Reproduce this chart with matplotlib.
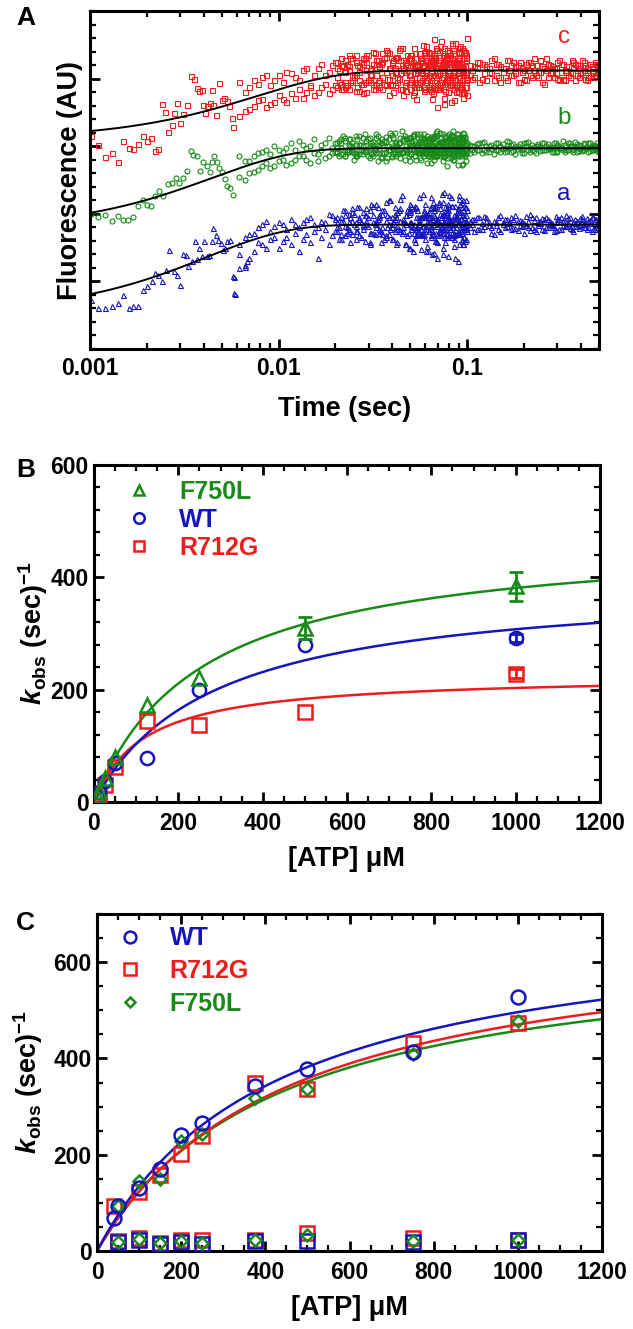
import numpy as np
import matplotlib
matplotlib.use("Agg")
import matplotlib.pyplot as plt
from matplotlib.ticker import MultipleLocator, FixedLocator, NullFormatter, LogLocator

plt.rcParams['font.family'] = ['Liberation Sans', 'DejaVu Sans']
plt.rcParams['font.weight'] = 'bold'
plt.rcParams['mathtext.fontset'] = 'custom'
plt.rcParams['mathtext.rm'] = 'Liberation Sans:bold'
plt.rcParams['mathtext.it'] = 'Liberation Sans:bold:italic'
plt.rcParams['mathtext.bf'] = 'Liberation Sans:bold'

RED = '#EE1C1C'
GREEN = '#178A17'
BLUE = '#1515C0'

# ---------------- Panel A data ----------------
# early sparse points (t in s, fluorescence AU)
tA_c_early = [0.00101,0.001106,0.0012,0.001303,0.001413,0.001503,0.001615,0.001697,0.001803,0.001901,
              0.002013,0.002104,0.002211,0.002301,0.002398,0.002496,0.0026,0.002708,0.0028,0.002904,
              0.0030,0.003125,0.003253,0.003416,0.003557,0.003674,0.003797,0.003908,0.003986,0.004068,
              0.004185,0.004325,0.004415,0.004506,0.004652,0.00483,0.00499,0.005129,0.0053,0.005473,
              0.005631,0.005747]
yA_c_early = [3.155,3.022,2.84,2.899,2.761,3.081,2.973,2.958,3.032,3.146,
              3.072,3.121,2.924,2.958,3.629,3.501,3.205,3.308,3.491,3.639,
              3.343,3.476,3.614,4.033,3.994,3.861,3.821,3.836,3.614,3.491,
              3.589,3.639,3.836,3.614,3.456,3.935,3.688,3.713,3.663,3.589,
              3.417,3.279]
tA_b_early = [0.00101,0.001106,0.0012,0.001303,0.001413,0.001503,0.001596,0.001697,0.001803,0.001901,
              0.002013,0.002104,0.002211,0.00232,0.002446,0.0026,0.002708,0.002858,0.002974,0.003098,
              0.003253,0.003416,0.003529,0.003674,0.003828,0.003986,0.004151,0.004325,0.004415,0.004541,
              0.004691,0.004846,0.00499,0.005193,0.005342,0.005518,0.005747]
yA_b_early = [1.997,1.947,1.987,1.888,1.962,1.913,1.913,1.947,2.11,2.209,
              2.125,2.11,2.258,2.332,2.258,2.441,2.455,2.529,2.455,2.529,
              2.628,2.934,2.874,2.86,2.628,2.766,2.702,2.618,2.766,2.85,
              2.766,2.677,2.618,2.519,2.406,2.381,2.283]
tA_a_early = [0.00101,0.001106,0.0012,0.001303,0.001413,0.001503,0.001615,0.001697,0.001803,0.001901,
              0.002013,0.002122,0.002211,0.002301,0.002398,0.002527,0.002632,0.002787,0.002904,0.0030,
              0.003125,0.003227,0.003319,0.003458,0.003601,0.003674,0.003797,0.003908,0.004018,0.004151,
              0.004289,0.004415,0.004506,0.004652,0.004786,0.004926,0.005047,0.005193,0.005342,0.005518,
              0.005702,0.005796,0.0058,0.0059,0.0062,0.0066,0.0068]
yA_a_early = [0.729,0.606,0.606,0.631,0.68,0.794,0.606,0.631,0.631,0.877,
              0.927,1.001,1.124,1.099,1.001,1.173,1.469,1.149,1.099,0.951,
              1.405,1.395,1.222,1.297,1.602,1.336,1.494,1.37,1.592,1.37,
              1.395,1.592,1.79,1.691,1.617,1.568,1.469,1.494,1.592,1.617,
              1.075,0.828,1.06,0.81,1.20,1.22,1.30]

# dense middle region (shared instrument time base)
tA_mid = [0.0062,0.0066,0.0070,0.0074,0.0078,0.0082,0.0086,0.0090,0.0095,0.0100,
          0.0105,0.0110,0.0116,0.0122,0.0128,0.0134,0.0140,0.0147,0.0154,0.0161,
          0.0168,0.0176,0.0184,0.0192,0.0200,0.0210,0.0220,0.0230,0.0240,0.0250,
          0.0262,0.0274,0.0286,0.0298,0.0310,0.0323,0.0336,0.0349,0.0362,0.0376,
          0.0390,0.0405,0.0420,0.0435,0.0450,0.0466,0.0482,0.0498,0.0514,0.0530,
          0.0547,0.0564,0.0581,0.0598,0.0615,0.0633,0.0651,0.0669,0.0687,0.0705,
          0.0724,0.0743,0.0762,0.0781,0.0800,0.0820,0.0840,0.0860,0.0880,0.0900,
          0.0920,0.0940,0.0960,0.0980,0.0995]
yA_c_mid1 = [3.95,3.52,3.88,3.60,3.92,3.70,4.05,3.62,3.98,3.75,
             3.70,4.10,3.78,4.02,3.85,3.72,4.15,3.88,4.05,3.80,
             4.22,3.92,4.10,3.85,4.25,3.95,4.18,3.90,4.30,4.02,
             3.88,4.25,3.95,4.35,4.05,3.85,4.28,4.10,3.92,4.40,
             4.15,3.80,4.32,4.00,4.45,3.90,4.20,4.05,3.75,4.38,
             4.12,3.95,4.50,3.85,4.25,4.05,3.70,4.35,4.15,3.92,
             4.55,4.02,3.82,4.30,4.10,3.65,4.42,4.00,4.20,3.88,
             4.48,4.08,3.78,4.28,4.60]
yA_c_mid2 = [3.45,3.80,3.55,3.98,3.68,4.02,3.58,3.90,3.65,4.05,
             3.95,3.65,4.08,3.72,3.98,4.12,3.80,3.90,3.75,4.15,
             3.88,4.05,3.78,4.20,3.90,4.12,3.85,4.22,3.95,4.05,
             4.20,3.92,4.30,3.98,4.15,4.38,3.95,4.22,4.30,4.00,
             3.90,4.28,4.08,4.42,3.85,4.22,4.35,3.95,4.25,4.08,
             3.88,4.30,4.18,4.40,3.98,4.20,4.28,3.90,4.45,4.25,
             4.00,4.35,4.22,3.95,4.40,4.18,4.05,4.52,3.92,4.30,
             4.15,3.85,4.40,4.00,3.75]
yA_b_mid1 = [2.85,2.50,2.78,2.62,2.90,2.70,2.95,2.68,3.00,2.78,
             2.92,2.72,3.05,2.80,3.08,2.85,2.98,2.75,3.10,2.88,
             3.02,2.82,3.12,2.90,3.05,2.85,3.15,2.92,3.00,2.80,
             3.10,2.95,3.18,2.85,3.05,2.98,3.15,2.82,3.08,3.00,
             3.20,2.88,3.05,2.95,3.22,2.80,3.10,2.98,3.15,2.85,
             3.02,3.18,2.90,3.08,2.75,3.12,3.00,2.85,3.20,2.92,
             3.05,2.78,3.15,2.95,3.10,2.82,3.22,2.98,2.88,3.12,
             3.00,2.72,3.18,2.95,3.05]
yA_b_mid2 = [2.55,2.78,2.60,2.85,2.65,2.92,2.75,2.88,2.70,2.95,
             2.80,2.98,2.75,2.95,2.85,3.02,2.80,3.00,2.90,2.78,
             2.95,3.05,2.85,2.98,2.92,3.08,2.88,2.95,3.10,2.90,
             2.85,3.02,2.92,3.10,2.88,2.95,2.78,3.05,2.90,2.82,
             2.95,3.12,2.85,3.05,2.90,3.15,2.92,2.78,3.00,3.08,
             2.90,2.82,3.10,2.95,3.15,2.88,2.98,3.12,2.85,3.02,
             2.92,3.18,2.85,3.00,2.90,3.15,2.80,3.05,3.18,2.85,
             2.95,3.10,2.88,3.02,2.92]
yA_a_mid1 = [1.55,1.25,1.70,1.45,1.80,1.55,1.90,1.62,1.82,1.50,
             1.85,1.65,1.92,1.72,1.45,1.88,1.70,1.95,1.75,1.35,
             1.90,1.78,2.00,1.68,1.92,1.80,2.05,1.72,1.95,1.85,
             2.10,1.65,1.98,1.82,2.15,1.70,1.92,1.58,2.05,1.80,
             2.20,1.62,1.95,1.78,2.28,1.55,2.05,1.85,1.45,2.12,
             1.75,1.95,2.30,1.62,1.88,2.08,1.40,1.98,1.72,2.18,
             1.85,1.50,2.10,1.92,1.68,2.25,1.80,1.35,2.02,1.88,
             2.15,1.62,1.95,1.78,2.05]
yA_a_mid2 = [1.40,1.65,1.35,1.72,1.58,1.85,1.50,1.75,1.65,1.88,
             1.60,1.78,1.55,1.85,1.80,1.62,1.92,1.58,1.85,1.80,
             1.65,1.88,1.55,1.98,1.75,1.62,1.90,1.80,1.58,2.00,
             1.75,1.88,1.60,1.95,1.72,1.85,2.10,1.75,1.62,1.98,
             1.78,1.90,1.55,2.05,1.72,1.88,1.68,2.15,1.80,1.58,
             1.95,1.70,1.82,1.98,1.52,1.90,1.75,2.08,1.60,1.85,
             1.95,1.72,1.58,2.00,1.85,1.65,1.92,2.12,1.70,1.55,
             1.88,1.98,1.65,2.20,1.75]

# second interleaved time base, 0.02-0.1 s
tA_mid2 = [0.0205,0.0215,0.0225,0.0235,0.0245,0.0256,0.0268,0.0280,0.0292,0.0304,
           0.0316,0.0329,0.0342,0.0355,0.0369,0.0383,0.0397,0.0412,0.0427,0.0442,
           0.0458,0.0474,0.0490,0.0506,0.0522,0.0538,0.0555,0.0572,0.0589,0.0606,
           0.0624,0.0642,0.0660,0.0678,0.0696,0.0714,0.0733,0.0752,0.0771,0.0790,
           0.0810,0.0830,0.0850,0.0870,0.0890,0.0910,0.0930,0.0950,0.0970,0.0988,
           0.0575,0.0620,0.0665,0.0710,0.0755,0.0805,0.0855,0.0905,0.0955,0.0500,
           0.0545,0.0595,0.0640,0.0690,0.0740,0.0785,0.0835,0.0885,0.0935,0.0985]
yA_c_mid3 = [4.15,3.92,4.28,3.85,4.05,4.35,3.98,4.22,3.80,4.12,
             4.40,3.90,4.18,4.02,4.32,3.75,4.25,4.08,3.95,4.45,
             4.12,3.82,4.30,4.00,4.20,3.70,4.38,4.10,3.88,4.48,
             4.05,4.25,3.78,4.15,4.42,3.95,4.22,3.62,4.32,4.08,
             3.90,4.50,4.15,3.80,4.28,4.02,4.40,3.72,4.18,4.35,
             3.98,4.22,4.58,3.85,4.12,4.30,3.68,4.45,4.05,4.20,
             3.92,4.38,4.10,3.58,4.25,4.00,4.52,3.88,4.15,4.32]
yA_c_mid4 = [3.88,4.20,3.95,4.12,4.30,3.82,4.18,3.92,4.25,4.00,
             3.85,4.22,3.98,4.38,3.90,4.15,4.05,4.30,4.20,3.85,
             4.28,4.10,3.92,4.35,3.80,4.18,4.02,4.25,4.40,3.95,
             4.20,3.88,4.32,4.05,3.90,4.28,4.12,4.45,3.98,4.22,
             4.35,3.95,4.05,4.25,3.82,4.18,3.92,4.30,4.10,3.88,
             4.28,4.02,3.90,4.40,4.15,3.98,4.25,4.08,3.78,4.35,
             4.20,3.95,4.30,4.12,3.85,4.42,4.05,4.22,3.98,4.10]
yA_c_mid5 = [4.02,4.30,3.88,4.18,3.95,4.25,4.10,3.78,4.35,4.05,
             3.92,4.28,4.15,3.85,4.42,4.00,4.20,3.90,4.32,4.08,
             3.75,4.25,4.12,3.95,4.45,3.88,4.18,4.30,3.82,4.10,
             4.38,3.98,4.22,3.85,4.05,4.48,3.92,4.15,4.28,3.80,
             4.22,4.02,4.38,3.90,4.12,4.25,3.78,4.05,4.40,3.95,
             4.18,3.88,4.32,4.08,3.72,4.25,4.12,3.95,4.42,3.85,
             4.10,4.28,3.82,4.20,4.02,4.35,3.90,4.15,4.45,3.98]
yA_c_mid6 = [4.25,3.85,4.10,4.35,3.98,4.05,3.82,4.30,4.12,3.95,
             4.22,4.05,3.88,4.25,4.10,4.38,3.92,4.15,4.02,4.28,
             4.15,3.95,4.05,4.30,3.88,4.22,3.95,4.12,4.35,4.02,
             3.85,4.15,4.05,4.30,4.20,3.88,4.10,4.32,3.95,4.25,
             4.05,4.30,3.85,4.18,4.40,3.95,4.22,4.12,3.88,4.30,
             4.08,4.40,3.95,4.25,4.18,3.92,4.35,4.02,4.15,4.28,
             3.95,4.12,4.38,3.88,4.22,4.05,4.30,3.92,4.18,4.02]
yA_b_mid3 = [3.05,2.88,3.12,2.92,3.00,2.85,3.15,2.95,3.08,2.82,
             3.02,3.18,2.90,3.05,2.78,3.10,2.98,3.20,2.88,3.04,
             2.92,3.12,2.85,3.00,3.15,2.80,3.06,2.95,3.18,2.90,
             3.02,2.75,3.10,2.98,3.22,2.86,3.04,2.92,3.14,2.82,
             3.00,3.16,2.88,3.08,2.72,3.12,2.95,3.20,2.85,3.02,
             2.90,3.10,2.80,3.05,2.96,3.18,2.88,3.00,2.74,3.12,
             2.94,3.06,2.84,3.15,2.98,2.70,3.08,2.92,3.02,2.88]
yA_b_mid4 = [2.92,3.05,2.85,3.10,2.95,3.02,2.88,3.00,2.94,3.12,
             2.86,2.98,3.06,2.90,3.14,2.95,2.84,3.02,2.98,2.90,
             3.08,2.94,3.12,2.88,2.96,3.04,2.92,3.10,2.85,3.00,
             3.08,2.94,2.88,3.05,2.92,3.12,2.98,2.86,3.02,3.15,
             2.90,2.96,3.06,2.92,3.10,2.88,3.00,2.94,3.14,2.96,
             3.04,2.86,3.12,2.92,3.00,2.90,3.08,2.96,3.14,2.88,
             3.02,2.92,3.10,2.95,3.05,3.00,2.90,3.12,2.85,3.06]
yA_b_mid5 = [2.98,3.10,2.86,3.02,2.92,3.15,2.95,2.88,3.08,2.98,
             2.90,3.12,2.96,2.84,3.06,2.94,3.16,2.90,3.00,2.82,
             3.10,2.96,3.04,2.88,3.18,2.92,3.02,2.80,3.10,2.97,
             2.86,3.14,2.94,3.05,2.90,3.20,2.96,2.84,3.08,2.92,
             3.12,2.88,3.02,2.96,3.18,2.85,3.05,2.92,3.10,2.78,
             3.00,2.94,3.15,2.88,3.06,2.96,2.80,3.12,2.92,3.02,
             3.18,2.90,3.00,2.86,3.08,2.95,3.14,2.88,3.04,2.96]
yA_b_mid6 = [2.90,2.98,3.08,2.94,3.04,2.88,3.02,3.12,2.92,3.00,
             3.06,2.90,3.02,3.10,2.92,3.00,2.86,3.06,2.95,3.12,
             2.90,3.00,2.94,3.08,2.96,3.02,2.90,3.14,2.94,3.04,
             2.98,2.90,3.02,2.86,3.10,2.95,3.04,2.92,2.98,3.08,
             2.94,3.02,2.86,3.12,2.96,3.00,2.90,3.06,2.96,3.02,
             2.92,3.08,2.96,3.00,2.88,3.10,2.95,3.04,2.90,3.12,
             2.96,3.04,2.92,3.02,2.88,3.06,2.98,2.92,3.10,2.94]
yA_a_mid3 = [1.95,1.70,2.05,1.78,1.90,1.62,2.10,1.85,1.98,1.55,
             1.88,2.15,1.72,2.00,1.65,2.20,1.80,1.92,1.58,2.08,
             1.75,1.98,1.50,2.12,1.85,1.68,2.25,1.78,1.95,1.45,
             2.02,1.82,2.18,1.60,1.92,1.75,2.30,1.65,2.05,1.38,
             1.88,2.12,1.72,1.98,1.30,2.22,1.80,1.55,2.10,1.85,
             1.68,2.00,1.42,2.15,1.78,1.92,1.62,2.28,1.82,1.50,
             2.05,1.75,1.95,1.35,2.18,1.70,1.88,2.02,1.60,1.90]
yA_a_mid4 = [1.80,1.95,1.68,1.88,2.02,1.75,1.92,1.82,2.08,1.72,
             1.98,1.85,1.78,2.05,1.90,1.70,1.95,2.10,1.82,1.75,
             1.92,1.85,2.00,1.78,1.62,1.95,1.88,1.70,2.05,1.82,
             1.75,2.10,1.85,1.95,1.68,2.00,1.80,1.90,1.72,2.15,
             1.85,1.65,1.98,1.80,2.08,1.72,1.92,2.00,1.78,1.62,
             1.95,1.85,2.05,1.75,1.88,2.12,1.70,1.90,1.82,2.02,
             1.78,1.95,1.68,1.88,2.00,1.85,1.72,1.95,2.10,1.80]
yA_a_mid5 = [1.88,1.62,1.98,1.75,2.08,1.82,1.68,2.02,1.90,1.58,
             2.12,1.80,1.95,1.70,2.18,1.85,1.62,2.00,1.78,2.22,
             1.88,1.55,2.05,1.82,1.72,2.10,1.92,1.48,2.02,1.78,
             1.95,2.25,1.70,1.88,1.58,2.08,1.82,2.32,1.65,1.95,
             1.78,2.12,1.52,1.92,2.05,1.70,1.85,2.20,1.60,1.98,
             1.82,1.45,2.10,1.75,1.95,2.28,1.68,1.88,1.55,2.05,
             1.80,2.15,1.65,1.92,1.40,2.02,1.85,1.72,2.18,1.78]
yA_a_mid6 = [1.75,1.90,1.82,2.00,1.70,1.88,1.95,1.78,1.85,2.05,
             1.72,1.90,1.98,1.80,1.68,1.95,1.85,1.75,2.02,1.90,
             1.80,1.98,1.72,1.88,2.08,1.78,1.85,1.95,1.70,2.00,
             1.88,1.78,1.92,2.12,1.82,1.72,1.98,1.85,1.78,2.05,
             1.92,1.80,1.70,1.95,1.85,2.02,1.75,1.90,1.82,2.10,
             1.72,1.95,1.85,1.68,2.00,1.80,1.92,1.75,2.05,1.88,
             1.70,1.98,1.82,1.90,1.78,2.08,1.85,1.95,1.72,1.88]

# late region (0.1-0.5 s), two interleaved time bases
tA_late = [0.103,0.109,0.116,0.123,0.130,0.138,0.146,0.154,0.162,0.171,0.180,0.190,0.200,0.210,0.221,0.232,0.244,
           0.256,0.268,0.281,0.294,0.308,0.322,0.336,0.351,0.366,0.382,0.398,0.414,0.431,0.448,0.465,0.482,0.498]
tA_late2 = [0.106,0.1125,0.1195,0.1265,0.134,0.142,0.150,0.158,0.1665,0.1755,0.185,0.195,0.205,0.2155,0.2265,0.238,
            0.250,0.262,0.2745,0.2875,0.301,0.315,0.329,0.3435,0.3585,0.374,0.390,0.406,0.4225,0.4395,0.4565,
            0.4735,0.490,0.4975]
yA_c_late1 = [4.20,4.02,4.25,4.08,4.15,3.98,4.22,4.10,4.28,4.05,4.18,3.95,4.12,4.25,4.02,4.20,4.10,
              3.92,4.22,4.08,4.15,4.28,4.00,4.18,4.10,4.25,4.05,4.20,4.12,3.98,4.22,4.15,4.05,4.18]
yA_c_late2 = [4.05,4.18,3.95,4.22,4.10,4.30,4.02,4.15,3.98,4.20,4.08,4.25,4.00,4.12,4.20,4.05,4.28,
              4.15,4.02,4.18,4.08,3.98,4.22,4.10,4.02,4.15,4.20,4.08,4.25,4.15,4.05,4.10,4.22,4.08]
yA_c_late3 = [4.12,4.25,4.00,4.18,4.08,4.22,3.95,4.15,4.28,4.05,4.20,4.10,3.98,4.25,4.12,4.02,4.18,
              4.30,4.08,4.15,4.00,4.22,4.12,4.05,4.28,3.98,4.15,4.10,4.20,4.02,4.18,4.25,4.10,4.05]
yA_c_late4 = [4.00,4.15,4.22,3.98,4.28,4.05,4.18,4.02,4.12,4.25,3.95,4.15,4.22,4.05,4.30,4.10,3.95,
              4.12,4.20,4.02,4.25,4.10,3.98,4.18,4.08,4.22,4.02,4.28,4.00,4.15,4.08,4.02,4.20,4.15]
yA_b_late1 = [3.02,2.92,3.05,2.95,3.00,2.88,3.04,2.96,3.08,2.92,2.99,3.03,2.90,3.06,2.95,3.01,2.93,
              3.05,2.97,2.91,3.04,2.98,3.07,2.94,3.00,2.92,3.03,2.96,3.05,2.99,2.93,3.02,2.97,3.01]
yA_b_late2 = [2.90,3.00,2.94,3.06,2.91,2.99,2.95,3.03,2.93,3.02,2.88,2.97,3.04,2.95,3.02,2.90,2.99,
              2.94,3.03,2.98,2.92,3.00,2.95,2.99,3.04,2.96,2.91,3.00,2.94,2.98,3.05,2.95,3.00,2.92]
yA_b_late3 = [2.95,3.03,2.90,3.00,2.96,3.05,2.92,2.98,3.06,2.93,3.00,2.95,3.04,2.91,2.99,3.03,2.94,
              3.01,2.96,3.05,2.92,2.98,3.02,2.94,3.00,3.06,2.93,2.97,3.03,2.91,2.99,2.96,3.04,2.95]
yA_b_late4 = [3.00,2.94,3.04,2.91,3.02,2.95,3.00,2.92,2.97,3.03,2.96,2.90,3.01,2.97,2.93,3.00,3.05,
              2.94,2.99,2.92,3.02,2.97,2.91,3.04,2.95,2.99,3.02,2.93,2.98,3.04,2.94,3.01,2.93,2.99]
yA_a_late1 = [1.90,1.75,1.95,1.82,1.88,1.70,1.96,1.85,1.92,1.78,1.98,1.84,1.72,1.90,1.80,1.95,1.86,
              1.76,1.92,1.83,1.97,1.78,1.89,1.82,1.95,1.74,1.90,1.85,1.80,1.94,1.87,1.78,1.92,1.84]
yA_a_late2 = [1.80,1.92,1.78,1.97,1.83,1.90,1.77,1.88,1.82,1.95,1.79,1.91,1.86,1.80,1.96,1.75,1.89,
              1.93,1.81,1.87,1.76,1.92,1.84,1.98,1.79,1.88,1.82,1.94,1.86,1.78,1.91,1.96,1.80,1.88]
yA_a_late3 = [1.85,1.95,1.78,1.90,1.72,1.88,1.98,1.80,1.86,1.93,1.76,1.90,1.84,1.99,1.78,1.87,1.94,
              1.81,1.90,1.74,1.88,1.95,1.82,1.86,1.78,1.92,1.84,1.97,1.80,1.89,1.75,1.93,1.85,1.90]
yA_a_late4 = [1.92,1.78,1.87,1.96,1.80,1.84,1.75,1.93,1.88,1.79,1.90,1.82,1.97,1.76,1.91,1.83,1.78,
              1.95,1.85,1.80,1.93,1.77,1.89,1.94,1.82,1.86,1.79,1.92,1.87,1.81,1.95,1.78,1.88,1.83]

# single-exponential fit parameters: plateau, amplitude, rate (1/s)
fitA_c = (4.12, 1.02, 129.0)
fitA_b = (2.97, 1.20, 226.0)
fitA_a = (1.84, 1.31, 241.0)
tracesA = ['c', 'b', 'a']

# ---------------- Panel B data ----------------
atpB = [6.25, 12.5, 25, 50, 125, 250, 500, 1000]
kB_F750L = [10, 20, 42, 80, 173, 220, 310, 384]
eB_F750L = [0, 0, 0, 0, 0, 0, 20, 26]
kB_WT = [9, 18, 38, 70, 79, 200, 280, 292]
eB_WT = [0, 0, 0, 0, 0, 0, 0, 8]
kB_R712G = [8, 15, 30, 62, 145, 137, 160, 228]
eB_R712G = [0, 0, 0, 0, 0, 0, 0, 8]
fitB = {'F750L': (477, 252), 'WT': (394, 281), 'R712G': (227, 118)}

# ---------------- Panel C data ----------------
atpC_WT = [40, 50, 100, 150, 200, 250, 375, 500, 750, 1000]
kC_WT_fast = [68, 93, 131, 171, 241, 265, 342, 379, 414, 527]
atpC_R = [40, 100, 150, 200, 250, 375, 500, 750, 1000]
kC_R712G_fast = [94, 122, 157, 202, 238, 348, 337, 433, 473]
atpC_F = [50, 100, 150, 200, 250, 375, 500, 750, 1000]
kC_F750L_fast = [93, 145, 150, 228, 243, 318, 337, 410, 477]
atpC_slow = [50, 100, 150, 200, 250, 375, 500, 750, 1000]
kC_WT_slow = [18, 22, 15, 18, 15, 20, 20, 18, 22]
kC_R712G_slow = [20, 28, 17, 22, 22, 22, 38, 28, 22]
kC_F750L_slow = [18, 25, 16, 20, 17, 22, 33, 20, 22]
fitC = {'WT': (707, 425), 'R712G': (684, 454), 'F750L': (654, 429)}

# ---------------- Figure ----------------
W, H = 633, 1329
fig = plt.figure(figsize=(W / 100, H / 100), dpi=100)


def ax_px(l, t, r, b):
    return fig.add_axes([l / W, 1 - b / H, (r - l) / W, (b - t) / H])


def style(ax, pad_x=6, pad_y=4):
    for s in ax.spines.values():
        s.set_linewidth(2.2)
    ax.tick_params(which='both', direction='in', top=True, right=True)
    ax.tick_params(which='major', length=7, width=2, labelsize=16.5, pad=pad_x)
    ax.tick_params(which='minor', length=4, width=1.6)
    ax.tick_params(axis='y', which='major', pad=pad_y)
    for lab in ax.get_xticklabels() + ax.get_yticklabels():
        lab.set_fontweight('bold')


# ---- Panel A ----
axA = ax_px(90, 11, 599, 349)
axA.set_xscale('log')
axA.set_xlim(0.001, 0.5)
axA.set_ylim(0, 5)
mk = dict(linestyle='none', mfc='none', ms=3.6, mew=0.8)
series = [
    ('c', RED, 's', tA_c_early, yA_c_early,
     [yA_c_mid1, yA_c_mid2], [yA_c_mid3, yA_c_mid4, yA_c_mid5, yA_c_mid6],
     [yA_c_late1, yA_c_late2], [yA_c_late3, yA_c_late4]),
    ('b', GREEN, 'o', tA_b_early, yA_b_early,
     [yA_b_mid1, yA_b_mid2], [yA_b_mid3, yA_b_mid4, yA_b_mid5, yA_b_mid6],
     [yA_b_late1, yA_b_late2], [yA_b_late3, yA_b_late4]),
    ('a', BLUE, '^', tA_a_early, yA_a_early,
     [yA_a_mid1, yA_a_mid2], [yA_a_mid3, yA_a_mid4, yA_a_mid5, yA_a_mid6],
     [yA_a_late1, yA_a_late2], [yA_a_late3, yA_a_late4]),
]
for name, col, m, te, ye, mids, mids2, lates, lates2 in series:
    axA.plot(te, ye, marker=m, mec=col, **mk)
    for yv in mids:
        axA.plot(tA_mid, yv, marker=m, mec=col, **mk)
    for yv in mids2:
        axA.plot(tA_mid2, yv, marker=m, mec=col, **mk)
    for yv in lates:
        axA.plot(tA_late, yv, marker=m, mec=col, **mk)
    for yv in lates2:
        axA.plot(tA_late2, yv, marker=m, mec=col, **mk)
tt = np.logspace(-3, np.log10(0.5), 400)
for (p, a, k) in (fitA_c, fitA_b, fitA_a):
    axA.plot(tt, p - a * np.exp(-k * tt), color='black', lw=1.4)
for name, col, (p, a, k) in zip(tracesA, [RED, GREEN, BLUE], [fitA_c, fitA_b, fitA_a]):
    axA.text(0.325, p + 0.5 if name == 'c' else p + 0.45, name, color=col, fontsize=17.5,
             fontweight='normal', ha='center', va='center')
axA.xaxis.set_major_locator(FixedLocator([0.001, 0.01, 0.1]))
axA.set_xticklabels(['0.001', '0.01', '0.1'])
axA.xaxis.set_minor_locator(LogLocator(base=10, subs=np.arange(2, 10)))
axA.xaxis.set_minor_formatter(NullFormatter())
axA.yaxis.set_major_locator(FixedLocator([1, 2, 3, 4]))
axA.yaxis.set_minor_locator(MultipleLocator(0.2))
axA.set_yticklabels([])
style(axA)
axA.set_xlabel('Time (sec)', fontsize=19.5, fontweight='bold', labelpad=11)
axA.set_ylabel('Fluorescence (AU)', fontsize=19.5, fontweight='bold', labelpad=1)

# ---- Panel B ----
axB = ax_px(94, 465, 600, 802)
xx = np.linspace(0, 1200, 400)
for key, col in (('R712G', RED), ('WT', BLUE), ('F750L', GREEN)):
    vm, km = fitB[key]
    axB.plot(xx, vm * xx / (km + xx), color=col, lw=1.8, zorder=2)
bmk = dict(linestyle='none', mfc='none', ms=9.5, mew=1.8, zorder=3)
hR, = axB.plot(atpB, kB_R712G, marker='s', mec=RED, **bmk)
hW, = axB.plot(atpB, kB_WT, marker='o', mec=BLUE, **bmk)
hF, = axB.plot(atpB, kB_F750L, marker='^', mec=GREEN, **bmk)
for y, e, col in ((kB_R712G, eB_R712G, RED), (kB_WT, eB_WT, BLUE), (kB_F750L, eB_F750L, GREEN)):
    y = np.array(y, float); e = np.array(e, float); x = np.array(atpB, float)
    msk = e > 0
    axB.errorbar(x[msk], y[msk], yerr=e[msk], fmt='none', ecolor=col, elinewidth=2,
                 capsize=5, capthick=2, zorder=3)
axB.set_xlim(0, 1200)
axB.set_ylim(0, 600)
axB.xaxis.set_major_locator(MultipleLocator(200))
axB.xaxis.set_minor_locator(MultipleLocator(50))
axB.yaxis.set_major_locator(MultipleLocator(200))
axB.yaxis.set_minor_locator(MultipleLocator(40))
style(axB, pad_x=7, pad_y=4)
axB.set_xlabel('[ATP] \u03bcM', fontsize=19.5, fontweight='bold', labelpad=8)
axB.set_ylabel(r'$k_{\mathrm{obs}}$ (sec)$^{-1}$', fontsize=19.5, fontweight='bold', labelpad=0)
legB = axB.legend([hF, hW, hR], ['F750L', 'WT', 'R712G'], loc='upper left',
                  bbox_to_anchor=(0.065, 0.955), frameon=False, fontsize=18, handlelength=1.0,
                  handletextpad=1.1, labelspacing=0.15, borderaxespad=0, borderpad=0,
                  markerscale=0.8)
for txt, col in zip(legB.get_texts(), [GREEN, BLUE, RED]):
    txt.set_color(col); txt.set_fontweight('bold')

# ---- Panel C ----
axC = ax_px(97, 914, 602, 1251)
xx = np.linspace(0, 1200, 400)
for key, col in (('F750L', GREEN), ('R712G', RED), ('WT', BLUE)):
    vm, km = fitC[key]
    axC.plot(xx, vm * xx / (km + xx), color=col, lw=1.8, zorder=2)
cmk = dict(linestyle='none', mfc='none', mew=1.8, zorder=3)
axC.plot(atpC_slow, kC_R712G_slow, marker='s', mec=RED, ms=9.5, **cmk)
axC.plot(atpC_slow, kC_WT_slow, marker='s', mec=BLUE, ms=9.5, **cmk)
axC.plot(atpC_slow, kC_F750L_slow, marker='D', mec=GREEN, ms=6, **cmk)
hCR, = axC.plot(atpC_R, kC_R712G_fast, marker='s', mec=RED, ms=9.5, **cmk)
hCF, = axC.plot(atpC_F, kC_F750L_fast, marker='D', mec=GREEN, ms=6, **cmk)
hCW, = axC.plot(atpC_WT, kC_WT_fast, marker='o', mec=BLUE, ms=10, **cmk)
axC.set_xlim(0, 1200)
axC.set_ylim(0, 700)
axC.xaxis.set_major_locator(MultipleLocator(200))
axC.xaxis.set_minor_locator(MultipleLocator(50))
axC.yaxis.set_major_locator(MultipleLocator(200))
axC.yaxis.set_minor_locator(MultipleLocator(50))
style(axC, pad_x=7, pad_y=4)
axC.set_xlabel('[ATP] \u03bcM', fontsize=19.5, fontweight='bold', labelpad=8)
axC.set_ylabel(r'$k_{\mathrm{obs}}$ (sec)$^{-1}$', fontsize=19.5, fontweight='bold', labelpad=6)
legC = axC.legend([hCW, hCR, hCF], ['WT', 'R712G', 'F750L'], loc='upper left',
                  bbox_to_anchor=(0.04, 0.963), frameon=False, fontsize=18, handlelength=1.0,
                  handletextpad=1.1, labelspacing=0.35, borderaxespad=0, borderpad=0,
                  markerscale=0.85)
for txt, col in zip(legC.get_texts(), [BLUE, RED, GREEN]):
    txt.set_color(col); txt.set_fontweight('bold')

# panel letters
for lab, ypx in (('A', 6), ('B', 458), ('C', 911)):
    fig.text(16 / W, 1 - ypx / H, lab, fontsize=19, fontweight='bold', va='top', ha='left')

fig.savefig('out.png', dpi=100)
